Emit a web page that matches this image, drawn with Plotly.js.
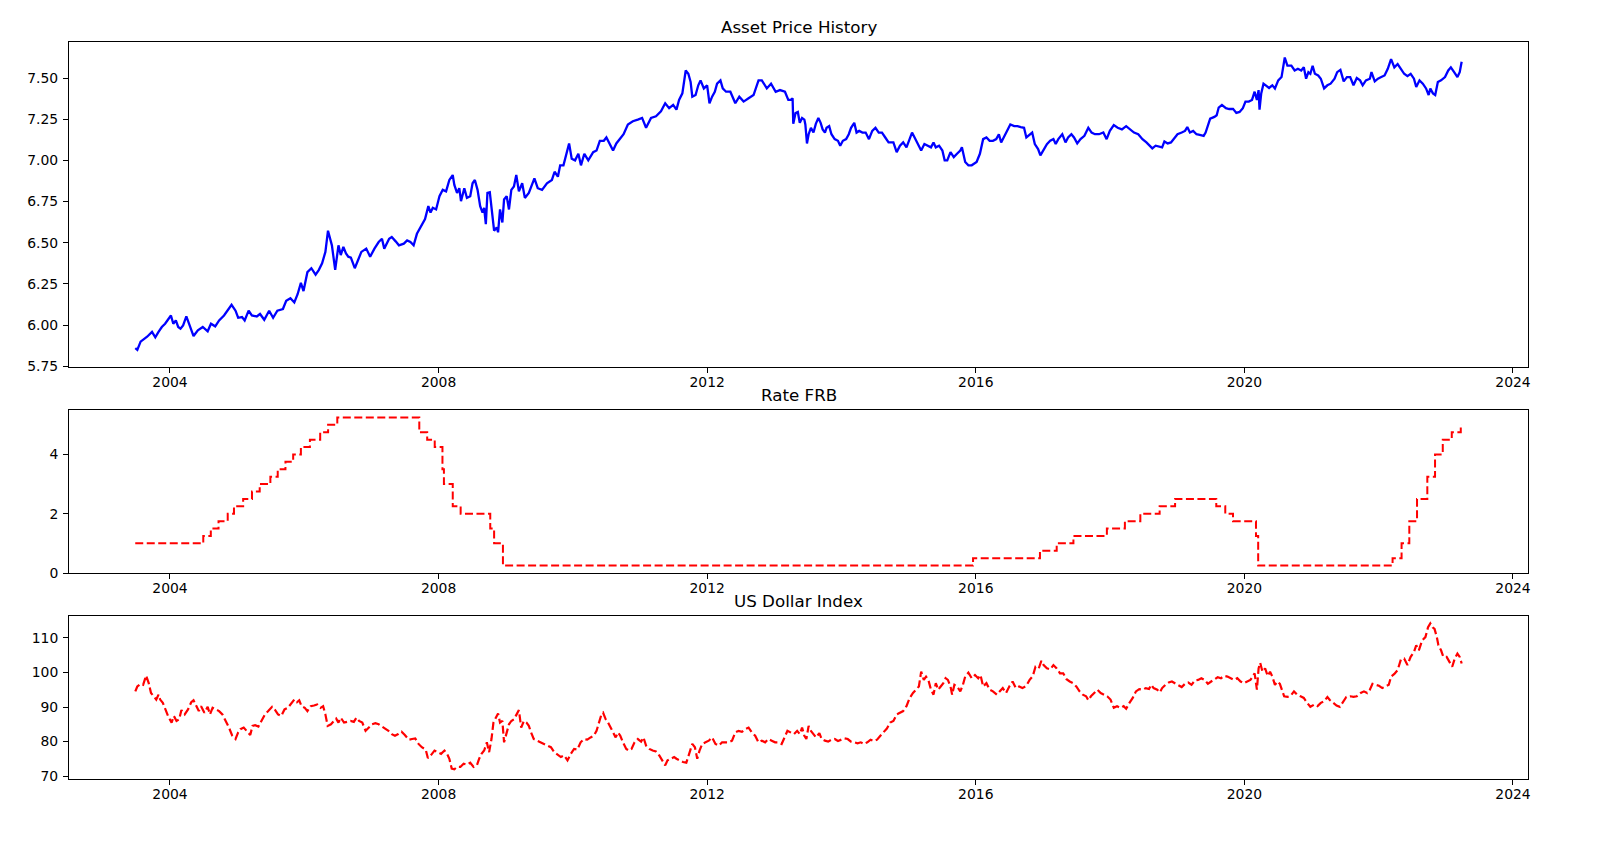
<!DOCTYPE html>
<html>
<head>
<meta charset="utf-8">
<script src="https://cdn.plot.ly/plotly-3.0.1.min.js"></script>
<style>
  html, body { margin: 0; padding: 0; background: #fff; }
  #chart { width: 1599px; height: 842px; }
</style>
</head>
<body>
<div id="chart"></div>
<script>
// ---------------- DATA ----------------
const priceYears = [
2003.483,2003.513,2003.562,2003.659,2003.732,2003.781,2003.829,2003.878,2003.927,2003.975,
2004.014,2004.049,2004.087,2004.122,2004.156,2004.195,2004.243,2004.292,2004.350,2004.414,
2004.487,2004.560,2004.609,2004.672,2004.730,2004.803,2004.852,2004.915,2004.974,2005.013,
2005.071,2005.110,2005.169,2005.217,2005.290,2005.339,2005.402,2005.475,2005.534,2005.597,
2005.680,2005.729,2005.792,2005.850,2005.899,2005.948,2005.987,2006.045,2006.104,2006.167,
2006.216,2006.264,2006.313,2006.352,2006.410,2006.459,2006.508,2006.542,2006.581,2006.620,
2006.654,2006.693,2006.751,2006.800,2006.849,2006.922,2006.980,2007.044,2007.107,2007.156,
2007.190,2007.263,2007.302,2007.360,2007.409,2007.482,2007.531,2007.580,2007.628,2007.677,
2007.750,2007.798,2007.847,2007.880,2007.914,2007.963,2008.013,2008.062,2008.111,2008.160,
2008.210,2008.234,2008.274,2008.308,2008.333,2008.382,2008.421,2008.470,2008.505,2008.539,
2008.579,2008.618,2008.653,2008.677,2008.702,2008.726,2008.761,2008.790,2008.825,2008.864,
2008.884,2008.913,2008.948,2008.973,2009.012,2009.046,2009.081,2009.120,2009.155,2009.194,
2009.243,2009.283,2009.342,2009.425,2009.475,2009.539,2009.612,2009.686,2009.726,2009.775,
2009.809,2009.858,2009.942,2009.981,2010.031,2010.080,2010.119,2010.169,2010.228,2010.301,
2010.351,2010.400,2010.459,2010.498,2010.557,2010.597,2010.646,2010.695,2010.754,2010.818,
2010.892,2010.966,2011.030,2011.089,2011.163,2011.237,2011.311,2011.374,2011.433,2011.493,
2011.542,2011.581,2011.630,2011.680,2011.719,2011.753,2011.778,2011.827,2011.867,2011.901,
2011.950,2011.999,2012.034,2012.073,2012.113,2012.147,2012.197,2012.231,2012.280,2012.344,
2012.418,2012.477,2012.541,2012.615,2012.689,2012.763,2012.812,2012.886,2012.949,2013.018,
2013.082,2013.156,2013.206,2013.241,2013.270,2013.280,2013.314,2013.348,2013.377,2013.411,
2013.445,2013.460,2013.484,2013.509,2013.543,2013.581,2013.616,2013.654,2013.688,2013.718,
2013.752,2013.776,2013.815,2013.849,2013.897,2013.946,2013.980,2014.019,2014.068,2014.107,
2014.141,2014.189,2014.223,2014.262,2014.311,2014.359,2014.408,2014.457,2014.505,2014.554,
2014.602,2014.651,2014.700,2014.772,2014.821,2014.870,2014.918,2014.967,2015.015,2015.050,
2015.088,2015.137,2015.186,2015.234,2015.283,2015.332,2015.370,2015.404,2015.453,2015.502,
2015.536,2015.575,2015.623,2015.672,2015.720,2015.769,2015.793,2015.842,2015.890,2015.939,
2016.012,2016.061,2016.109,2016.158,2016.206,2016.255,2016.304,2016.343,2016.377,2016.425,
2016.474,2016.513,2016.571,2016.620,2016.668,2016.717,2016.751,2016.800,2016.838,2016.877,
2016.926,2016.960,2017.009,2017.057,2017.106,2017.154,2017.188,2017.227,2017.286,2017.334,
2017.373,2017.422,2017.461,2017.509,2017.558,2017.616,2017.674,2017.723,2017.772,2017.835,
2017.898,2017.947,2017.995,2018.054,2018.112,2018.175,2018.238,2018.297,2018.355,2018.418,
2018.481,2018.540,2018.613,2018.628,2018.677,2018.725,2018.774,2018.808,2018.857,2018.906,
2018.945,2019.003,2019.066,2019.115,2019.149,2019.188,2019.237,2019.286,2019.334,2019.393,
2019.422,2019.456,2019.490,2019.553,2019.587,2019.617,2019.665,2019.724,2019.773,2019.831,
2019.880,2019.928,2019.977,2020.016,2020.065,2020.113,2020.152,2020.186,2020.211,2020.225,
2020.250,2020.284,2020.318,2020.367,2020.415,2020.454,2020.503,2020.552,2020.600,2020.639,
2020.698,2020.747,2020.795,2020.844,2020.883,2020.917,2020.951,2020.980,2021.014,2021.048,
2021.097,2021.136,2021.185,2021.234,2021.282,2021.341,2021.380,2021.428,2021.477,2021.526,
2021.574,2021.623,2021.672,2021.721,2021.760,2021.808,2021.867,2021.891,2021.940,2021.988,
2022.037,2022.086,2022.134,2022.183,2022.232,2022.281,2022.329,2022.378,2022.427,2022.475,
2022.524,2022.558,2022.607,2022.656,2022.704,2022.743,2022.768,2022.807,2022.841,2022.880,
2022.928,2022.987,2023.035,2023.074,2023.123,2023.172,2023.206,2023.235
];
const priceValues = [
5.859,5.849,5.899,5.929,5.958,5.925,5.958,5.988,6.008,6.032,
6.058,6.008,6.028,5.988,5.978,5.998,6.052,5.998,5.933,5.968,
5.988,5.962,6.008,5.992,6.028,6.058,6.087,6.123,6.087,6.044,
6.048,6.028,6.087,6.058,6.052,6.067,6.032,6.087,6.044,6.087,
6.097,6.147,6.163,6.137,6.187,6.256,6.206,6.321,6.345,6.306,
6.335,6.375,6.444,6.573,6.484,6.335,6.484,6.425,6.474,6.435,
6.415,6.409,6.345,6.395,6.444,6.464,6.415,6.464,6.504,6.524,
6.464,6.524,6.534,6.508,6.484,6.494,6.514,6.504,6.484,6.554,
6.603,6.643,6.722,6.683,6.712,6.702,6.782,6.821,6.812,6.881,
6.911,6.851,6.802,6.831,6.752,6.831,6.772,6.782,6.861,6.881,
6.821,6.722,6.683,6.712,6.613,6.802,6.806,6.702,6.573,6.593,
6.563,6.702,6.623,6.762,6.782,6.702,6.821,6.841,6.911,6.812,
6.861,6.772,6.802,6.891,6.831,6.821,6.861,6.881,6.931,6.901,
6.970,6.970,7.103,7.010,7.000,7.040,6.970,7.040,7.000,7.050,
7.060,7.119,7.119,7.139,7.089,7.060,7.103,7.129,7.159,7.218,
7.238,7.248,7.258,7.198,7.258,7.268,7.298,7.347,7.317,7.337,
7.308,7.367,7.407,7.546,7.526,7.476,7.387,7.397,7.456,7.486,
7.437,7.456,7.347,7.387,7.417,7.466,7.486,7.437,7.417,7.417,
7.347,7.387,7.357,7.377,7.397,7.486,7.486,7.437,7.466,7.417,
7.427,7.417,7.367,7.367,7.377,7.222,7.288,7.294,7.228,7.258,
7.248,7.218,7.103,7.159,7.198,7.169,7.222,7.258,7.228,7.188,
7.169,7.198,7.208,7.159,7.129,7.119,7.089,7.119,7.129,7.159,
7.198,7.228,7.169,7.179,7.169,7.169,7.129,7.179,7.198,7.169,
7.169,7.139,7.109,7.109,7.050,7.089,7.109,7.079,7.129,7.169,
7.139,7.099,7.060,7.099,7.089,7.079,7.109,7.079,7.089,7.060,
7.000,7.000,7.050,7.020,7.040,7.060,7.079,6.990,6.970,6.970,
6.990,7.040,7.129,7.139,7.119,7.119,7.129,7.159,7.109,7.149,
7.188,7.218,7.208,7.208,7.202,7.198,7.139,7.159,7.169,7.099,
7.069,7.030,7.069,7.099,7.119,7.129,7.099,7.129,7.159,7.109,
7.139,7.159,7.139,7.103,7.129,7.149,7.198,7.169,7.159,7.159,
7.169,7.129,7.179,7.214,7.198,7.188,7.208,7.188,7.169,7.159,
7.129,7.109,7.079,7.073,7.089,7.083,7.079,7.115,7.103,7.109,
7.129,7.159,7.169,7.179,7.202,7.169,7.179,7.159,7.155,7.149,
7.169,7.208,7.254,7.264,7.274,7.321,7.337,7.317,7.312,7.313,
7.288,7.294,7.317,7.357,7.357,7.367,7.417,7.367,7.427,7.308,
7.407,7.466,7.456,7.440,7.456,7.437,7.486,7.506,7.625,7.575,
7.575,7.546,7.556,7.546,7.565,7.496,7.536,7.526,7.575,7.526,
7.516,7.496,7.437,7.456,7.466,7.496,7.536,7.550,7.480,7.506,
7.506,7.456,7.500,7.486,7.456,7.486,7.496,7.536,7.480,7.496,
7.506,7.516,7.556,7.615,7.565,7.585,7.556,7.526,7.512,7.526,
7.496,7.446,7.486,7.466,7.437,7.397,7.437,7.407,7.397,7.476,
7.486,7.506,7.546,7.565,7.536,7.506,7.536,7.599
];

const rateDates = [
"2003-06-26","2004-06-30","2004-08-10","2004-09-21","2004-11-10","2004-12-14",
"2005-02-02","2005-03-22","2005-05-03","2005-06-30","2005-08-09","2005-09-20",
"2005-11-01","2005-12-13","2006-01-31","2006-03-28","2006-05-10","2006-06-29",
"2007-09-18","2007-10-31","2007-12-11","2008-01-22","2008-01-30","2008-03-18",
"2008-04-30","2008-10-08","2008-10-29","2008-12-16","2015-12-17","2016-12-15",
"2017-03-16","2017-06-15","2017-12-14","2018-03-22","2018-06-14","2018-09-27",
"2018-12-20","2019-08-01","2019-09-19","2019-10-31","2020-03-04","2020-03-16",
"2022-03-17","2022-05-05","2022-06-16","2022-07-28","2022-09-22","2022-11-03",
"2022-12-15","2023-02-02","2023-03-23","2023-03-27"
];
const rateValues = [
1.00,1.25,1.50,1.75,2.00,2.25,
2.50,2.75,3.00,3.25,3.50,3.75,
4.00,4.25,4.50,4.75,5.00,5.25,
4.75,4.50,4.25,3.50,3.00,2.25,
2.00,1.50,1.00,0.25,0.50,0.75,
1.00,1.25,1.50,1.75,2.00,2.25,
2.50,2.25,2.00,1.75,1.25,0.25,
0.50,1.00,1.75,2.50,3.25,4.00,
4.50,4.75,5.00,5.00
];

const usdYears = [
2003.483,2003.513,2003.562,2003.600,2003.644,2003.683,2003.717,2003.756,2003.795,2003.829,
2003.854,2003.893,2003.927,2003.975,2004.024,2004.058,2004.097,2004.136,2004.170,2004.219,
2004.268,2004.316,2004.350,2004.389,2004.428,2004.462,2004.511,2004.560,2004.594,2004.633,
2004.682,2004.730,2004.779,2004.828,2004.876,2004.925,2004.974,2005.013,2005.047,2005.096,
2005.144,2005.193,2005.227,2005.266,2005.315,2005.363,2005.412,2005.461,2005.519,2005.558,
2005.607,2005.656,2005.704,2005.753,2005.811,2005.850,2005.889,2005.923,2005.958,2006.006,
2006.045,2006.094,2006.143,2006.191,2006.240,2006.279,2006.313,2006.347,2006.396,2006.435,
2006.474,2006.508,2006.542,2006.591,2006.639,2006.688,2006.737,2006.776,2006.815,2006.863,
2006.912,2006.961,2007.009,2007.058,2007.107,2007.156,2007.204,2007.253,2007.302,2007.350,
2007.399,2007.448,2007.497,2007.555,2007.604,2007.652,2007.701,2007.750,2007.808,2007.840,
2007.890,2007.939,2007.988,2008.037,2008.087,2008.126,2008.160,2008.195,2008.234,2008.274,
2008.323,2008.372,2008.421,2008.470,2008.520,2008.569,2008.603,2008.638,2008.677,2008.717,
2008.751,2008.786,2008.815,2008.850,2008.884,2008.913,2008.948,2008.973,2009.012,2009.046,
2009.081,2009.120,2009.160,2009.194,2009.228,2009.268,2009.307,2009.342,2009.376,2009.415,
2009.465,2009.514,2009.563,2009.612,2009.671,2009.721,2009.770,2009.819,2009.868,2009.918,
2009.967,2010.016,2010.065,2010.114,2010.164,2010.213,2010.262,2010.311,2010.351,2010.390,
2010.424,2010.449,2010.488,2010.523,2010.557,2010.597,2010.636,2010.671,2010.705,2010.744,
2010.794,2010.833,2010.872,2010.917,2010.966,2011.015,2011.050,2011.089,2011.138,2011.187,
2011.237,2011.286,2011.335,2011.374,2011.409,2011.458,2011.507,2011.542,2011.591,2011.640,
2011.689,2011.729,2011.778,2011.817,2011.852,2011.886,2011.926,2011.975,2012.024,2012.073,
2012.123,2012.172,2012.221,2012.270,2012.320,2012.369,2012.418,2012.467,2012.516,2012.566,
2012.615,2012.664,2012.713,2012.762,2012.812,2012.861,2012.910,2012.959,2013.009,2013.058,
2013.107,2013.193,2013.241,2013.290,2013.338,2013.377,2013.411,2013.445,2013.475,2013.509,
2013.543,2013.582,2013.620,2013.669,2013.703,2013.752,2013.800,2013.849,2013.898,2013.946,
2013.995,2014.043,2014.092,2014.140,2014.189,2014.238,2014.286,2014.335,2014.384,2014.432,
2014.481,2014.529,2014.578,2014.627,2014.675,2014.724,2014.772,2014.821,2014.870,2014.918,
2014.967,2015.015,2015.064,2015.113,2015.152,2015.186,2015.225,2015.259,2015.293,2015.332,
2015.370,2015.404,2015.439,2015.477,2015.516,2015.550,2015.584,2015.623,2015.647,2015.681,
2015.720,2015.769,2015.808,2015.842,2015.890,2015.939,2015.988,2016.036,2016.070,2016.109,
2016.158,2016.206,2016.255,2016.313,2016.352,2016.401,2016.450,2016.498,2016.547,2016.595,
2016.644,2016.693,2016.751,2016.800,2016.848,2016.887,2016.936,2016.974,2017.008,2017.057,
2017.106,2017.154,2017.203,2017.252,2017.300,2017.349,2017.397,2017.446,2017.495,2017.543,
2017.592,2017.641,2017.675,2017.713,2017.762,2017.811,2017.859,2017.908,2017.956,2018.005,
2018.054,2018.102,2018.151,2018.200,2018.238,2018.287,2018.336,2018.384,2018.433,2018.481,
2018.530,2018.579,2018.613,2018.647,2018.701,2018.740,2018.774,2018.823,2018.872,2018.920,
2018.969,2019.018,2019.066,2019.115,2019.164,2019.212,2019.261,2019.310,2019.359,2019.407,
2019.456,2019.505,2019.553,2019.602,2019.651,2019.699,2019.748,2019.797,2019.846,2019.894,
2019.943,2019.992,2020.040,2020.089,2020.123,2020.152,2020.186,2020.211,2020.235,2020.269,
2020.308,2020.347,2020.381,2020.415,2020.454,2020.493,2020.527,2020.561,2020.591,2020.639,
2020.688,2020.737,2020.785,2020.834,2020.883,2020.932,2020.980,2021.039,2021.087,2021.136,
2021.185,2021.234,2021.273,2021.321,2021.370,2021.419,2021.467,2021.516,2021.575,2021.623,
2021.672,2021.730,2021.779,2021.828,2021.867,2021.906,2021.954,2022.003,2022.052,2022.100,
2022.149,2022.183,2022.232,2022.281,2022.329,2022.378,2022.427,2022.475,2022.524,2022.558,
2022.597,2022.646,2022.695,2022.734,2022.768,2022.802,2022.831,2022.865,2022.889,2022.928,
2022.962,2023.011,2023.060,2023.094,2023.133,2023.172,2023.206,2023.235
];
const usdValues = [
94.52,95.94,96.70,96.42,99.08,96.89,94.05,93.10,92.15,93.57,
92.15,91.20,89.30,87.21,85.50,87.40,85.97,86.45,89.11,87.87,
89.30,91.39,91.96,90.25,88.82,90.25,88.35,90.06,87.87,89.77,
89.30,88.82,87.87,85.97,84.07,81.70,80.75,82.65,83.60,84.07,
83.12,81.89,84.55,84.74,84.36,85.97,87.87,88.82,90.06,89.30,
87.87,87.40,89.30,89.77,91.20,92.15,91.39,91.96,90.25,89.77,
88.82,90.25,90.44,90.72,89.77,90.25,87.87,84.55,85.02,85.69,
86.64,85.50,86.92,85.50,85.69,85.97,85.69,86.92,85.97,85.50,
83.12,84.07,85.02,85.31,85.02,84.36,83.79,83.12,82.17,81.70,
82.17,82.84,81.89,80.56,80.75,80.94,79.33,78.38,77.71,75.24,
76.19,77.43,76.95,76.48,77.43,76.48,75.05,72.20,72.01,72.68,
72.68,73.63,73.34,73.91,72.68,73.15,75.05,76.48,77.43,79.80,
76.95,80.75,85.50,86.92,88.16,85.50,85.97,79.80,82.65,85.02,
85.97,86.45,87.87,89.11,84.07,85.97,85.50,84.55,82.65,80.75,
80.28,79.80,79.33,78.85,78.38,76.95,76.19,75.53,76.00,74.58,
76.48,77.90,77.71,79.80,80.75,80.56,81.22,81.70,83.12,85.50,
87.87,88.35,86.45,85.50,84.07,82.65,81.22,82.65,81.70,79.80,
77.90,77.43,77.90,79.80,80.75,79.99,81.22,78.85,77.90,77.43,
77.14,76.00,74.58,73.15,74.58,75.05,75.53,75.05,74.58,74.10,
73.91,76.48,79.33,78.38,75.05,77.43,79.33,79.80,80.28,81.22,
79.33,78.85,79.80,79.80,79.80,80.28,82.65,83.12,82.84,83.60,
84.07,82.65,81.70,79.80,80.28,79.80,80.75,80.28,79.80,79.80,
79.33,83.12,82.65,82.17,83.12,82.17,84.07,81.70,80.75,84.55,
83.12,82.17,81.22,82.46,80.75,80.28,79.99,80.56,80.75,80.18,
80.56,80.94,80.75,79.99,79.80,79.52,79.80,79.33,79.80,80.56,
80.18,80.56,81.70,82.65,83.79,85.50,85.97,87.87,88.35,88.82,
90.25,92.62,94.05,95.00,95.94,100.22,97.84,98.79,97.84,95.00,
93.57,96.89,95.00,95.94,96.89,98.32,97.84,95.94,93.57,96.42,
95.94,94.52,96.42,98.79,99.93,98.32,99.27,98.32,99.27,95.94,
96.89,95.00,94.52,93.57,94.52,95.47,94.05,95.94,97.37,95.47,
95.94,95.47,96.13,97.84,98.98,101.64,101.17,103.35,102.12,101.17,
100.88,102.12,101.17,99.74,99.74,98.03,97.37,96.89,95.94,94.52,
93.57,93.10,91.96,93.10,94.05,95.00,94.05,93.57,93.10,92.15,
89.77,90.25,89.77,90.25,89.49,91.20,92.62,94.52,95.19,95.00,
95.47,95.19,96.42,95.47,95.00,94.24,95.47,96.42,97.08,97.37,
96.89,96.42,95.76,96.70,97.08,96.42,97.65,97.84,98.32,97.84,
96.70,97.37,98.03,98.60,98.32,98.98,98.79,98.32,97.84,98.32,
97.37,96.89,97.37,97.84,98.79,99.74,95.00,101.17,102.78,100.22,
101.17,98.98,100.22,98.79,96.42,97.37,96.70,95.00,93.10,92.91,
93.29,94.52,93.57,93.10,92.62,91.20,90.06,90.72,90.25,91.20,
91.67,92.91,91.96,91.20,90.44,90.06,91.39,92.91,93.10,92.91,
93.10,94.05,94.52,94.05,95.00,96.70,96.42,96.13,95.47,95.94,
96.42,98.79,99.55,100.69,103.73,104.02,102.12,104.49,105.92,107.82,
106.39,109.24,110.19,113.04,114.18,113.04,112.56,110.19,107.82,106.39,
104.49,104.49,102.59,101.64,104.02,105.44,104.49,102.59
];

const tickYears = [2004, 2008, 2012, 2016, 2020, 2024];
const priceTicks = [5.75, 6.00, 6.25, 6.50, 6.75, 7.00, 7.25, 7.50];
const rateTicks = [0, 2, 4];
const usdTicks = [70, 80, 90, 100, 110];
const titles = ["Asset Price History", "Rate FRB", "US Dollar Index"];

// ---------------- helpers ----------------
function yToDate(y) {
  const yr = Math.floor(y);
  const s = Date.UTC(yr, 0, 1), e = Date.UTC(yr + 1, 0, 1);
  const d = new Date(s + (y - yr) * (e - s));
  const p = n => String(n).padStart(2, '0');
  return d.getUTCFullYear() + '-' + p(d.getUTCMonth() + 1) + '-' + p(d.getUTCDate()) +
         ' ' + p(d.getUTCHours()) + ':' + p(d.getUTCMinutes());
}

const FONT = "DejaVu Sans, Liberation Sans, sans-serif";
const xRange = [yToDate(2002.495), yToDate(2024.223)];
const xDomain = [69 / 1599, 1528 / 1599];
const H = 842;
const yDomTop = [1 - 367 / H, 1 - 42 / H];
const yDomMid = [1 - 573 / H, 1 - 410 / H];
const yDomBot = [1 - 779 / H, 1 - 616 / H];

function xAxis(anchor) {
  return {
    domain: xDomain, anchor: anchor, type: 'date', range: xRange,
    tickvals: tickYears.map(y => y + '-01-01'),
    ticktext: tickYears.map(String),
    ticks: 'outside', ticklen: 5, tickwidth: 1, tickcolor: '#000',
    ticklabelstandoff: -3,
    showline: true, linecolor: '#000', linewidth: 1, mirror: true,
    showgrid: false, zeroline: false,
    tickfont: { family: FONT, size: 13.9, color: '#000' }
  };
}
function yAxis(anchor, domain, range, ticks, fmt) {
  return {
    domain: domain, anchor: anchor, range: range,
    tickvals: ticks, tickformat: fmt,
    ticks: 'outside', ticklen: 5, tickwidth: 1, tickcolor: '#000',
    ticklabelstandoff: 2,
    showline: true, linecolor: '#000', linewidth: 1, mirror: true,
    showgrid: false, zeroline: false,
    tickfont: { family: FONT, size: 13.9, color: '#000' }
  };
}

const traces = [
  {
    x: priceYears.map(yToDate), y: priceValues, xaxis: 'x', yaxis: 'y',
    type: 'scatter', mode: 'lines',
    line: { color: '#0000ff', width: 2.3 }, hoverinfo: 'skip'
  },
  {
    x: rateDates, y: rateValues, xaxis: 'x2', yaxis: 'y2',
    type: 'scatter', mode: 'lines',
    line: { color: '#ff0000', width: 2, dash: '8px,3.5px', shape: 'hv' }, hoverinfo: 'skip'
  },
  {
    x: usdYears.map(yToDate), y: usdValues, xaxis: 'x3', yaxis: 'y3',
    type: 'scatter', mode: 'lines',
    line: { color: '#ff0000', width: 2.2, dash: '8px,3.5px' }, hoverinfo: 'skip'
  }
];

const xc = (xDomain[0] + xDomain[1]) / 2;
const annotations = [yDomTop, yDomMid, yDomBot].map((d, i) => ({
  text: titles[i], xref: 'paper', yref: 'paper', x: xc, y: d[1],
  xanchor: 'center', yanchor: 'bottom', yshift: 3, showarrow: false,
  font: { family: FONT, size: 16.7, color: '#000' }
}));

const layout = {
  width: 1599, height: 842,
  margin: { l: 0, r: 0, t: 0, b: 0 },
  paper_bgcolor: '#fff', plot_bgcolor: '#fff',
  showlegend: false,
  xaxis: xAxis('y'),
  xaxis2: xAxis('y2'),
  xaxis3: xAxis('y3'),
  yaxis: yAxis('x', yDomTop, [5.745, 7.719], priceTicks, '.2f'),
  yaxis2: yAxis('x2', yDomMid, [0, 5.5], rateTicks, 'd'),
  yaxis3: yAxis('x3', yDomBot, [69.2, 116.3], usdTicks, 'd'),
  annotations: annotations
};

Plotly.newPlot('chart', traces, layout, { displayModeBar: false, staticPlot: true });
</script>
</body>
</html>
